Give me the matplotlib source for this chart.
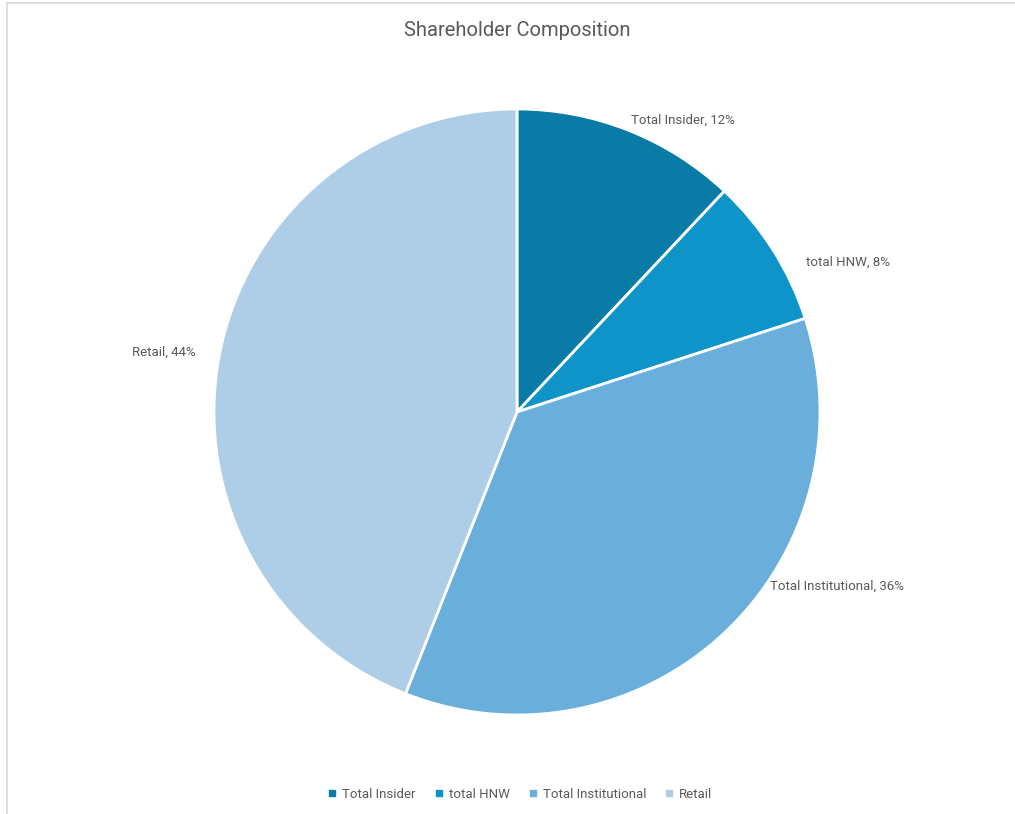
import matplotlib.pyplot as plt
from matplotlib.lines import Line2D

plt.rcParams['font.family'] = ['Roboto', 'DejaVu Sans']

# data
categories = ['Total Insider', 'total HNW', 'Total Institutional', 'Retail']
shares = [12, 8, 36, 44]
colors = ['#0A7AA7', '#0E94C9', '#6AAFDC', '#AECDE6']

# label anchors (axes data units, pie radius = 1)
label_pos = [(0.376, 0.964, 'left'), (0.954, 0.495, 'left'),
             (0.835, -0.574, 'left'), (-1.059, 0.198, 'right')]

W, H = 1015, 814
fig = plt.figure(figsize=(W / 100, H / 100), dpi=100)
cx, cy, r = 517, 412, 303
ax = fig.add_axes([(cx - r) / W, (H - cy - r) / H, 2 * r / W, 2 * r / H])

wedges, _ = ax.pie(shares, colors=colors, startangle=90, counterclock=False,
                   radius=1, wedgeprops=dict(edgecolor='white', linewidth=2))
ax.set_xlim(-1, 1)
ax.set_ylim(-1, 1)
ax.set_aspect('equal')

for cat, val, (x, y, ha) in zip(categories, shares, label_pos):
    ax.text(x, y, f'{cat}, {val}%', ha=ha, va='center', fontsize=9.5,
            color='#595959', clip_on=False)

fig.text(cx / W, 1 - 30 / H, 'Shareholder Composition', ha='center', va='center',
         fontsize=14.5, color='#595959')

handles = [Line2D([], [], marker='s', linestyle='', markersize=5, color=c) for c in colors]
fig.legend(handles, categories, loc='center', bbox_to_anchor=(520 / W, 1 - 794 / H),
           ncol=4, frameon=False, fontsize=9.5, handlelength=0.7, handletextpad=0.4,
           columnspacing=1.4, labelcolor='#595959')

# chart border (left and top)
fig.add_artist(Line2D([7 / W, 7 / W], [0, 1 - 3 / H], color='#D9D9D9', linewidth=1.2))
fig.add_artist(Line2D([7 / W, 1], [1 - 3 / H, 1 - 3 / H], color='#D9D9D9', linewidth=1.2))

plt.savefig('out.png', dpi=100)
